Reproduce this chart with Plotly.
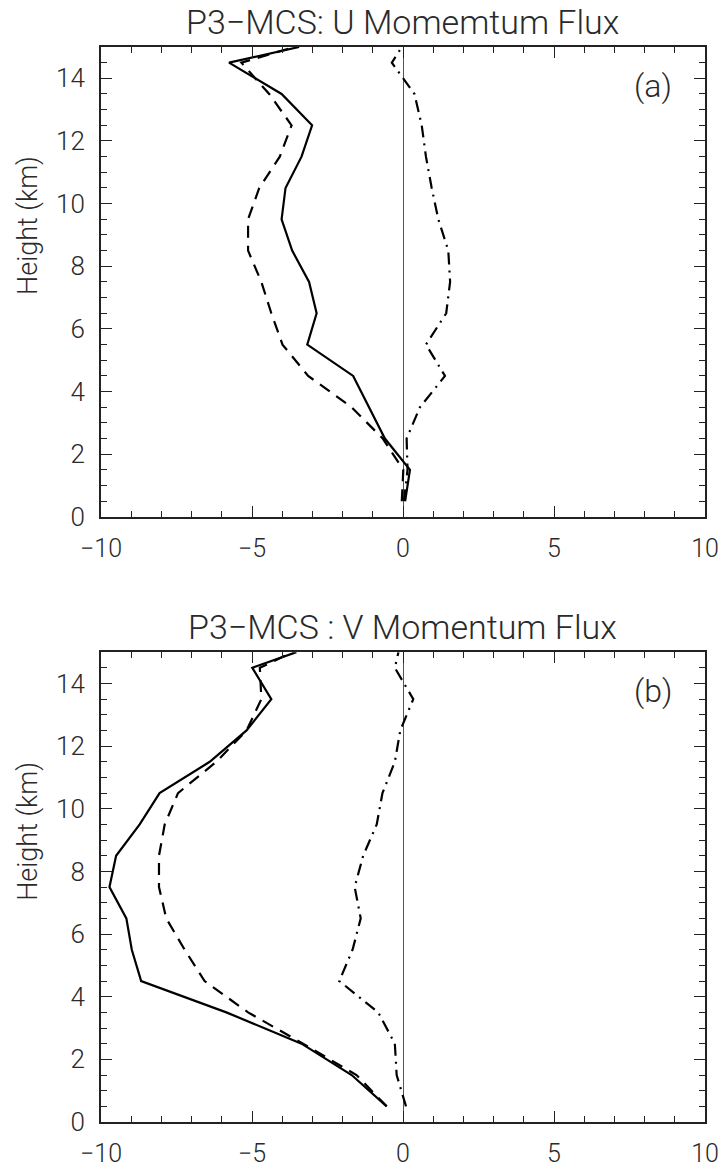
import plotly.graph_objects as go

# ---------------- data ----------------
heights = [0.5, 1.5, 2.5, 3.5, 4.5, 5.5, 6.5, 7.5, 8.5, 9.5, 10.5, 11.5, 12.5, 13.5, 14.5, 15.0]

# Panel (a): U momentum flux
u_solid = [0.07, 0.23, -0.60, -1.12, -1.65, -3.17, -2.86, -3.11, -3.67, -4.02, -3.89, -3.36, -3.01, -4.02, -5.76, -3.44]
u_dash = [-0.04, 0.01, -0.67, -1.70, -3.14, -3.99, -4.36, -4.69, -5.13, -5.13, -4.76, -4.08, -3.69, -4.43, -5.35, -3.60]
u_dashdot = [0.03, 0.15, 0.12, 0.56, 1.39, 0.76, 1.43, 1.56, 1.50, 1.17, 0.95, 0.76, 0.62, 0.38, -0.37, -0.04]

# Panel (b): V momentum flux
v_solid = [-0.54, -1.70, -3.36, -5.85, -8.67, -8.98, -9.16, -9.72, -9.50, -8.72, -8.06, -6.40, -5.18, -4.36, -4.99, -3.53]
v_dash = [-0.54, -1.54, -3.31, -5.13, -6.57, -7.23, -7.84, -8.08, -8.08, -7.89, -7.45, -6.18, -5.18, -4.69, -4.74, -3.65]
v_dashdot = [0.10, -0.21, -0.27, -0.82, -2.11, -1.67, -1.40, -1.60, -1.32, -0.87, -0.68, -0.27, -0.09, 0.34, -0.27, -0.15]

titles = ["P3\u2212MCS: U Momemtum Flux", "P3\u2212MCS : V Momentum Flux"]
panel_labels = ["(a)", "(b)"]
y_title = "Height (km)"
x_ticks = [-10, -5, 0, 5, 10]
x_ticktext = ["\u221210", "\u22125", "0", "5", "10"]

# ---------------- figure ----------------
W, H = 723, 1170
ML, MR, MT, MB = 101, 18, 47, 47.7
IW, IH = W - ML - MR, H - MT - MB
FONT = "Roboto"
TXT = "#2a2a2a"

fig = go.Figure()

styles = [("solid", 2.2), ("12px,8px", 2.2), ("12px,6px,2px,6px", 2.2)]
series = [(u_solid, u_dash, u_dashdot), (v_solid, v_dash, v_dashdot)]
for i, group in enumerate(series):
    xa = "x" if i == 0 else "x2"
    ya = "y" if i == 0 else "y2"
    for vals, (dash, w) in zip(group, styles):
        fig.add_trace(go.Scatter(x=vals, y=heights, mode="lines", xaxis=xa, yaxis=ya,
                                 line=dict(color="black", width=w, dash=dash),
                                 showlegend=False, hoverinfo="skip", cliponaxis=True))

def px_x(p):
    return (p - ML) / IW

def px_y(p):
    return 1 - (p - MT) / IH

x_dom = [0, 1]
dom_a = [px_y(517), 1]
dom_b = [0, px_y(652.3)]

def xaxis(anchor):
    return dict(domain=x_dom, anchor=anchor, range=[-10, 10], tickvals=x_ticks, ticktext=x_ticktext,
                ticks="inside", ticklen=11, tickwidth=1.3, tickcolor="#222",
                minor=dict(dtick=1, ticks="inside", ticklen=6, tickwidth=1.3, tickcolor="#222"),
                showline=True, linewidth=1.8, linecolor="#222", mirror="ticks",
                showgrid=False, zeroline=True, zerolinecolor="#555", zerolinewidth=1,
                tickfont=dict(family=FONT, size=25, color=TXT, weight=300),
                ticklabelstandoff=8, automargin=False, fixedrange=True)

def yaxis(anchor, dom):
    return dict(domain=dom, anchor=anchor, range=[0, 15], dtick=2, tick0=0,
                ticks="inside", ticklen=11, tickwidth=1.3, tickcolor="#222",
                minor=dict(dtick=0.5, ticks="inside", ticklen=6, tickwidth=1.3, tickcolor="#222"),
                showline=True, linewidth=1.8, linecolor="#222", mirror="ticks",
                showgrid=False, zeroline=False,
                tickfont=dict(family=FONT, size=26, color=TXT, weight=300),
                ticklabelstandoff=9, automargin=False, fixedrange=True)

annotations = []
title_y = [px_y(22), px_y(627)]
ht_y = [px_y(226), px_y(832)]
lab_y = [px_y(86), px_y(691)]
for i in range(2):
    annotations.append(dict(text=titles[i], x=px_x(402), y=title_y[i], xref="paper", yref="paper",
                            showarrow=False, xanchor="center", yanchor="middle",
                            font=dict(family=FONT, size=34, color=TXT, weight=300)))
    annotations.append(dict(text=y_title, x=px_x(28), y=ht_y[i], xref="paper", yref="paper",
                            showarrow=False, xanchor="center", yanchor="middle", textangle=-90,
                            font=dict(family=FONT, size=27, color=TXT, weight=300)))
    annotations.append(dict(text=panel_labels[i], x=px_x(653), y=lab_y[i], xref="paper", yref="paper",
                            showarrow=False, xanchor="center", yanchor="middle",
                            font=dict(family=FONT, size=32, color=TXT, weight=300)))

fig.update_layout(
    width=W, height=H, margin=dict(l=ML, r=MR, t=MT, b=MB, autoexpand=False),
    paper_bgcolor="white", plot_bgcolor="white",
    xaxis=xaxis("y"), yaxis=yaxis("x", dom_a),
    xaxis2=xaxis("y2"), yaxis2=yaxis("x2", dom_b),
    annotations=annotations,
)

fig.write_html("out.html")
